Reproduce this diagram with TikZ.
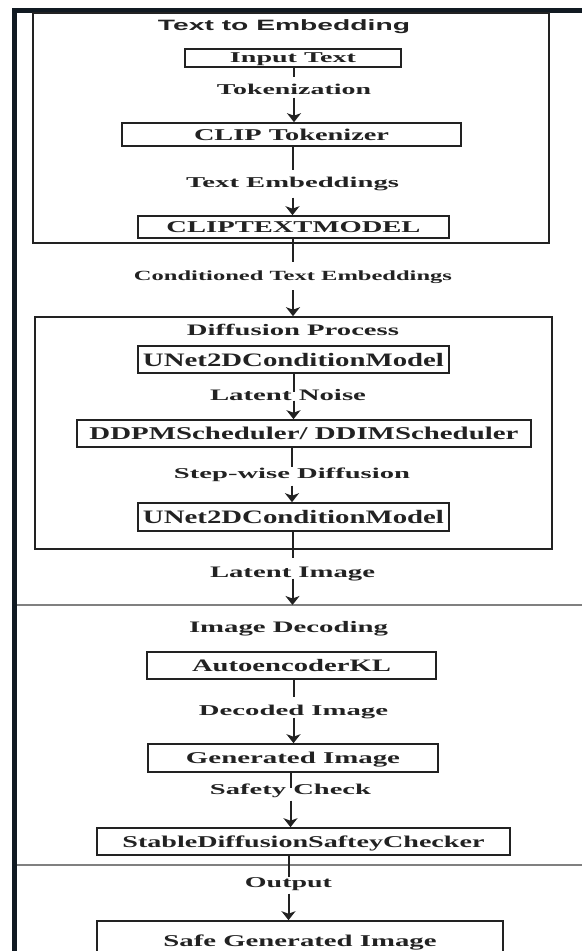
\documentclass[tikz,border=0pt]{standalone}
\usepackage{fontspec}
\setmainfont{Liberation Serif}
\setsansfont{Liberation Sans}
\usetikzlibrary{arrows.meta}
\definecolor{framec}{HTML}{111A22}
\definecolor{ink}{HTML}{222222}
\definecolor{sepc}{HTML}{808080}
\newcommand{\wtext}[3]{\resizebox{#1pt}{\height}{\fontsize{#2}{#2}\selectfont\bfseries #3}}
\begin{document}
\begin{tikzpicture}[x=1pt,y=-1pt,
  box/.style={draw=ink, line width=1.6pt, inner sep=0pt, text depth=0pt, text=ink},
  grp/.style={draw=ink, line width=1.6pt, inner sep=0pt},
  lab/.style={inner sep=0pt, anchor=base, text height=10pt, text depth=3pt, text=ink},
  conn/.style={draw=ink, line width=2pt},
  arr/.style={conn, -{Stealth[length=9pt,width=14pt,inset=2.5pt]}},
  sepline/.style={draw=sepc, line width=1.6pt}]
\useasboundingbox (0,0) rectangle (582,951);
% outer frame
\fill[framec] (12,8) rectangle (582,13);
\fill[framec] (12,8) rectangle (17,951);
% groups
\node[grp, minimum width=516, minimum height=230] (tte) at (291,128) {};
\node[grp, minimum width=517, minimum height=232] (diff) at (293.5,433) {};
% separators
\coordinate (s1a) at (17,605); \coordinate (s1b) at (582,605);
\coordinate (s2a) at (17,865); \coordinate (s2b) at (582,865);
\draw[sepline] (s1a) -- (s1b);
\draw[sepline] (s2a) -- (s2b);
% titles
\node[lab] (t1) at (284,30.5) {\wtext{252}{15}{\sffamily Text to Embedding}};
\node[lab] (dp) at (293,335.5) {\wtext{212}{16}{Diffusion Process}};
\node[lab] (idec) at (288.5,632.5) {\wtext{199}{16}{Image Decoding}};
% boxes
\node[box, minimum width=216, minimum height=18] (in) at (293,58) {\wtext{126}{15}{Input Text}};
\node[box, minimum width=339, minimum height=23] (clip) at (291.5,134.5) {\wtext{195}{16.5}{CLIP Tokenizer}};
\node[box, minimum width=311, minimum height=22] (ctm) at (293.5,227) {\wtext{254}{16.5}{CLIPTEXTMODEL}};
\node[box, minimum width=311, minimum height=27] (u1) at (293.5,359.5) {\wtext{301}{19}{UNet2DConditionModel}};
\node[box, minimum width=454, minimum height=27] (dd) at (304,433.5) {\wtext{429}{18}{DDPMScheduler/ DDIMScheduler}};
\node[box, minimum width=311, minimum height=28] (u2) at (293.5,517) {\wtext{301}{19}{UNet2DConditionModel}};
\node[box, minimum width=289, minimum height=27] (ae) at (291.5,665.5) {\wtext{199}{17.5}{AutoencoderKL}};
\node[box, minimum width=290, minimum height=28] (gen) at (293,758) {\wtext{214}{16.5}{Generated Image}};
\node[box, minimum width=413, minimum height=27] (sc) at (303.5,841.5) {\wtext{362}{16.5}{StableDiffusionSafteyChecker}};
\node[box, minimum width=406, minimum height=39] (safe) at (300,940.5) {\wtext{273}{16.5}{Safe Generated Image}};
% labels
\node[lab] (tok) at (294,94.5) {\wtext{154}{15}{Tokenization}};
\node[lab] (temb) at (292.5,187.5) {\wtext{213}{15}{Text Embeddings}};
\node[lab] (cond) at (293,280) {\wtext{318}{14}{Conditioned Text Embeddings}};
\node[lab] (ln) at (288,400.5) {\wtext{156}{16}{Latent Noise}};
\node[lab] (sw) at (292,478.5) {\wtext{236}{15}{Step-wise Diffusion}};
\node[lab] (li) at (292.5,577.5) {\wtext{165}{16}{Latent Image}};
\node[lab] (di) at (293.5,715.5) {\wtext{189}{15}{Decoded Image}};
\node[lab] (sfc) at (290.5,794.5) {\wtext{161}{15}{Safety Check}};
\node[lab] (out) at (288.5,887.5) {\wtext{87}{15}{Output}};
% connectors
\draw[conn] (in.south -| tok) -- ([yshift=7pt]tok.north);
\draw[arr] (tok.south) -- (clip.north -| tok);
\draw[conn] (clip.south -| temb) -- ([yshift=7pt]temb.north);
\draw[arr] ([yshift=-7pt]temb.south) -- (ctm.north -| temb);
\draw[conn] (ctm.south -| cond) -- ([yshift=8pt]cond.north);
\draw[arr] ([yshift=-7pt]cond.south) -- (diff.north -| cond);
\draw[conn] (u1.south) -- ([yshift=-2pt]ln.north -| u1);
\draw[arr] ([yshift=3pt]ln.south -| u1) -- (dd.north -| u1);
\draw[conn] (dd.south -| sw) -- ([yshift=1pt]sw.north);
\draw[arr] ([yshift=-4pt]sw.south) -- (u2.north -| sw);
\draw[conn] (u2.south -| li) -- ([yshift=9pt]li.north);
\draw[arr] ([yshift=2pt]li.south) -- (li |- s1a);
\draw[conn] (ae.south -| di) -- ([yshift=8pt]di.north);
\draw[arr] ([yshift=1pt]di.south) -- (gen.north -| di);
\draw[conn] (gen.south -| sfc) -- ([yshift=-4pt]sfc.north);
\draw[arr] ([yshift=-3pt]sfc.south) -- (sc.north -| sfc);
\draw[conn] (sc.south -| out) -- (out.north);
\draw[arr] ([yshift=-3pt]out.south) -- (safe.north -| out);
\end{tikzpicture}
\end{document}
